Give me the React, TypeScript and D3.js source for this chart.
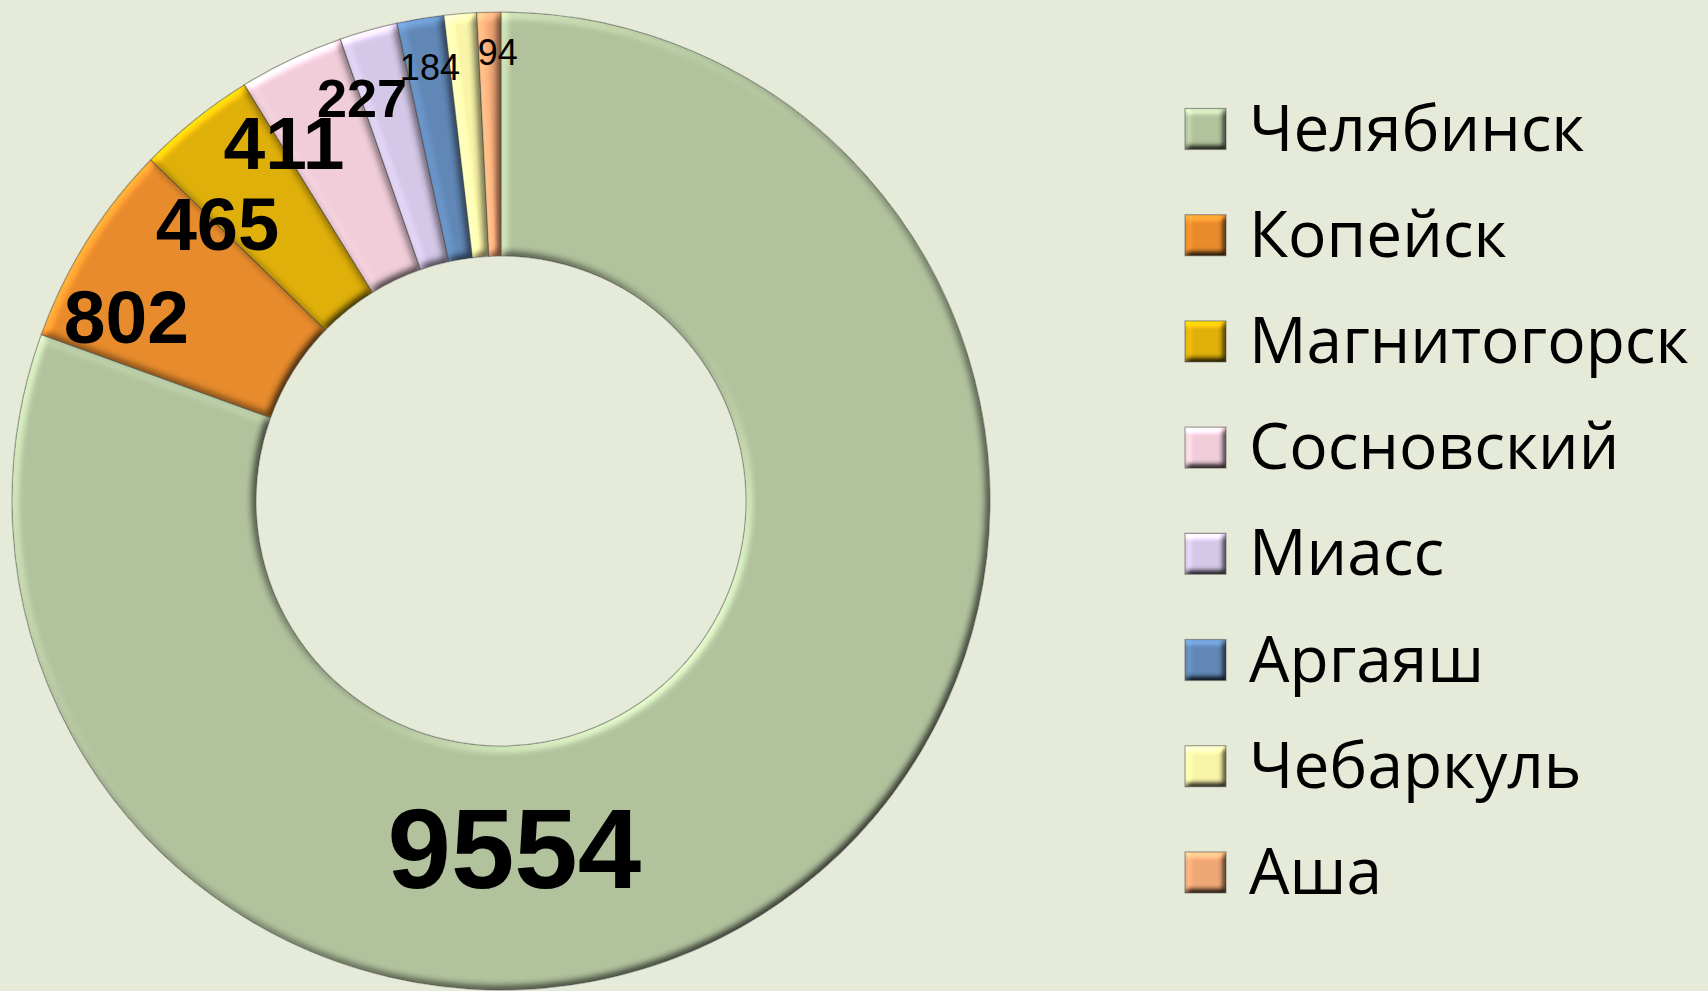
import React from "react";
import * as d3 from "d3";

const categories = ["Челябинск", "Копейск", "Магнитогорск", "Сосновский", "Миасс", "Аргаяш", "Чебаркуль", "Аша"];
const values = [9554, 802, 465, 411, 227, 184, 127, 94];
const shownLabels = ["9554", "802", "465", "411", "227", "184", "", "94"];
const colors = ["#B2C39E", "#E88C2C", "#E0B00A", "#F1CEDA", "#D5C8E8", "#6188B7", "#FAF6A9", "#F1A877"];

// label layout (polar: degrees clockwise from 12 o'clock, radius), font size, weight
const labelLayout = [
  { a: 177.8, r: 346, size: 114, weight: 700 },
  { a: 296.3, r: 418, size: 75, weight: 700 },
  { a: 314.4, r: 397, size: 74, weight: 700 },
  { a: 328.8, r: 419, size: 75, weight: 700 },
  { a: 341.0, r: 427, size: 54, weight: 700 },
  { a: 350.7, r: 440, size: 36, weight: 400 },
  { a: 0, r: 0, size: 0, weight: 400 },
  { a: 359.6, r: 449, size: 36, weight: 400 },
];

const W = 1708;
const H = 991;
const CX = 501;
const CY = 501;
const R_OUT = 489;
const R_IN = 245;
const BG = "#E6EBD9";

export default function App() {
  const pie = d3.pie<number>().sort(null).startAngle(0).endAngle(2 * Math.PI);
  const arcs = pie(values);
  const arc = d3.arc<d3.PieArcDatum<number>>().innerRadius(R_IN).outerRadius(R_OUT);

  const legendY = d3.scaleLinear().domain([0, categories.length - 1]).range([128.5, 128.5 + 7 * 106.2]);

  return (
    <svg
      width={W}
      height={H}
      style={{ position: "absolute", left: 0, top: 0, display: "block" }}
      xmlns="http://www.w3.org/2000/svg"
    >
      <defs>
        <filter id="bevel" x="-5%" y="-5%" width="110%" height="110%" colorInterpolationFilters="sRGB">
          <feGaussianBlur in="SourceAlpha" stdDeviation="4" result="blur" />
          <feDiffuseLighting in="blur" surfaceScale="3.5" diffuseConstant="1" lightingColor="#ffffff" result="light">
            <feDistantLight azimuth="225" elevation="50" />
          </feDiffuseLighting>
          <feComposite in="SourceGraphic" in2="light" operator="arithmetic" k1="1.3" k2="0" k3="0" k4="0" result="lit" />
          <feComposite in="lit" in2="SourceAlpha" operator="in" />
        </filter>
        <filter id="bevelSmall" x="-10%" y="-10%" width="120%" height="120%" colorInterpolationFilters="sRGB">
          <feGaussianBlur in="SourceAlpha" stdDeviation="3" result="blur" />
          <feDiffuseLighting in="blur" surfaceScale="4" diffuseConstant="1" lightingColor="#ffffff" result="light">
            <feDistantLight azimuth="240" elevation="50" />
          </feDiffuseLighting>
          <feComposite in="SourceGraphic" in2="light" operator="arithmetic" k1="1.3" k2="0" k3="0" k4="0" result="lit" />
          <feComposite in="lit" in2="SourceAlpha" operator="in" />
        </filter>
      </defs>
      <rect x={0} y={0} width={W} height={H} fill={BG} />
      <g transform={`translate(${CX},${CY})`}>
        {arcs.map((d, i) => {
          const p = arc(d) || "";
          return (
            <g key={i}>
              <path d={p} fill={colors[i]} filter="url(#bevel)" />
              <path d={p} fill="none" stroke="#3d3d3d" strokeOpacity={0.4} strokeWidth={1.2} />
            </g>
          );
        })}
        {arcs.map((d, i) => {
          const L = labelLayout[i];
          if (!shownLabels[i]) return null;
          const a = (L.a * Math.PI) / 180;
          const x = L.r * Math.sin(a);
          const y = -L.r * Math.cos(a);
          return (
            <text
              key={`t${i}`}
              x={x}
              y={y + 0.358 * L.size}
              textAnchor="middle"
              fontFamily="'Liberation Sans', Arial, sans-serif"
              fontWeight={L.weight}
              fontSize={L.size}
              fill="#000"
            >
              {shownLabels[i]}
            </text>
          );
        })}
      </g>
      <g>
        {categories.map((c, i) => {
          const y = legendY(i);
          return (
            <g key={c}>
              <rect x={1185} y={y - 20} width={41} height={41} fill={colors[i]} filter="url(#bevelSmall)" />
              <rect x={1185} y={y - 20} width={41} height={41} fill="none" stroke="#3d3d3d" strokeOpacity={0.45} strokeWidth={1.2} />
              <text
                x={1249}
                y={y + 22}
                fontFamily="'Open Sans', sans-serif"
                fontSize={64}
                fill="#000"
              >
                {c}
              </text>
            </g>
          );
        })}
      </g>
    </svg>
  );
}
